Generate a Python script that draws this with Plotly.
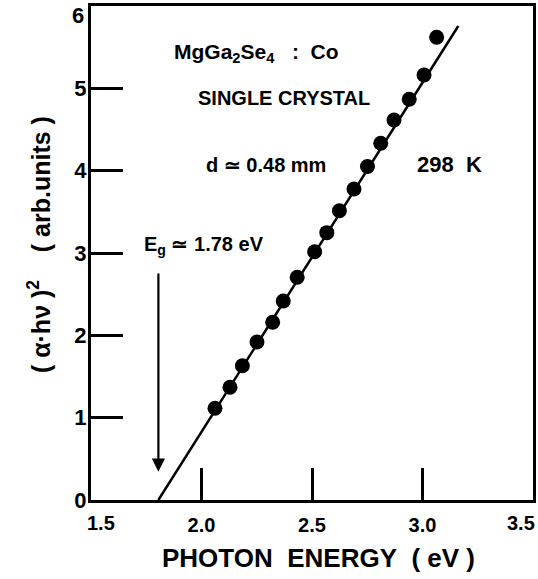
import plotly.graph_objects as go

# ---- data ----
photon_energy = [2.061, 2.129, 2.185, 2.251, 2.322, 2.370, 2.433, 2.512, 2.567,
                 2.624, 2.690, 2.751, 2.811, 2.871, 2.940, 3.007, 3.064]
alpha_hv_sq = [1.114, 1.369, 1.631, 1.919, 2.158, 2.417, 2.705, 3.016, 3.247,
               3.514, 3.777, 4.051, 4.333, 4.616, 4.867, 5.162, 5.620]

fit_x = [1.805, 3.162]
fit_y = [0.0, 5.757]

eg_arrow_x = [1.805, 1.805]
eg_arrow_y = [2.77, 0.344]

x_tickvals = [1.5, 2.0, 2.5, 3.0, 3.5]
x_ticktext = ["1.5", "2.0", "2.5", "3.0", "3.5"]
y_tickvals = [0, 1, 2, 3, 4, 5, 6]
y_ticktext = ["0", "1", "2", "3", "4", "5", "6"]

FONT = "Liberation Sans, Arial, sans-serif"


def f(size):
    return dict(family=FONT, size=size, color="black", weight="bold")


fig = go.Figure()
fig.add_trace(go.Scatter(x=fit_x, y=fit_y, mode="lines",
                         line=dict(color="black", width=2.5),
                         showlegend=False, hoverinfo="skip"))
fig.add_trace(go.Scatter(x=photon_energy, y=alpha_hv_sq, mode="markers",
                         marker=dict(color="black", size=15, line=dict(width=0)),
                         showlegend=False))

# Eg arrow
fig.add_annotation(x=eg_arrow_x[1], y=eg_arrow_y[1], ax=eg_arrow_x[0], ay=eg_arrow_y[0],
                   xref="x", yref="y", axref="x", ayref="y", text="",
                   showarrow=True, arrowhead=2, arrowsize=1.2, arrowwidth=2.2,
                   arrowcolor="black", standoff=0, startstandoff=0)

txt = dict(showarrow=False, xref="x", yref="y", xanchor="left", yanchor="middle")
fig.add_annotation(x=1.867, y=5.43,
                   text="MgGa<sub>2</sub>Se<sub>4</sub>\u00a0\u00a0 :\u00a0 Co", font=f(21), **txt)
fig.add_annotation(x=1.975, y=4.879, text="SINGLE CRYSTAL", font=f(20), **txt)
fig.add_annotation(x=2.011, y=4.069, text="d \u2243 0.48 mm", font=f(20), **txt)
fig.add_annotation(x=2.966, y=4.069, text="298\u00a0 K", font=f(22), **txt)
fig.add_annotation(x=1.731, y=3.09, text="E<sub>g</sub> \u2243 1.78 eV", font=f(20), **txt)

# edge tick labels, drawn where the reference places them (just inside the corners)
fig.add_annotation(x=(86 - 91) / 442, y=(500 - 15.5) / 494, xref="paper", yref="paper",
                   text=y_ticktext[-1], showarrow=False, xanchor="right", yanchor="middle",
                   font=f(22))
fig.add_annotation(x=(101 - 91) / 442, y=(500 - 522.5) / 494, xref="paper", yref="paper",
                   text=x_ticktext[0], showarrow=False, xanchor="center", yanchor="middle",
                   font=f(20))
fig.add_annotation(x=(521 - 91) / 442, y=(500 - 522.5) / 494, xref="paper", yref="paper",
                   text=x_ticktext[-1], showarrow=False, xanchor="center", yanchor="middle",
                   font=f(20))

# axis titles
fig.add_annotation(x=(318 - 91) / 442, y=(500 - 557.5) / 494, xref="paper", yref="paper",
                   text="PHOTON\u00a0 ENERGY\u00a0 ( eV )", showarrow=False,
                   xanchor="center", yanchor="middle", font=f(26))
fig.add_annotation(x=(38.6 - 91) / 442, y=(500 - 244.5) / 494, xref="paper", yref="paper",
                   text="( \u03b1\u00b7h\u03bd )<sup>2</sup>\u00a0\u00a0\u00a0 ( arb.units )",
                   showarrow=False, textangle=-90,
                   xanchor="center", yanchor="middle", font=f(25))

axis_common = dict(showline=True, linecolor="black", linewidth=3, mirror=True,
                   ticks="inside", ticklen=32, tickwidth=3, tickcolor="black",
                   showgrid=False, zeroline=False, automargin=False)

fig.update_xaxes(range=[1.5, 3.5], tickvals=x_tickvals[1:-1], ticktext=x_ticktext[1:-1],
                 tickfont=f(20), ticklabelstandoff=5, **axis_common)
fig.update_yaxes(range=[0, 6], tickvals=y_tickvals[:-1], ticktext=y_ticktext[:-1],
                 tickfont=f(22), ticklabelstandoff=-3, **axis_common)

fig.update_layout(width=538, height=579,
                  margin=dict(l=91, r=5, t=6, b=79),
                  paper_bgcolor="white", plot_bgcolor="white",
                  showlegend=False)

fig.write_html("out.html", config={"displayModeBar": False},
               post_script="document.body.style.margin='0px';document.body.style.padding='0px';")
